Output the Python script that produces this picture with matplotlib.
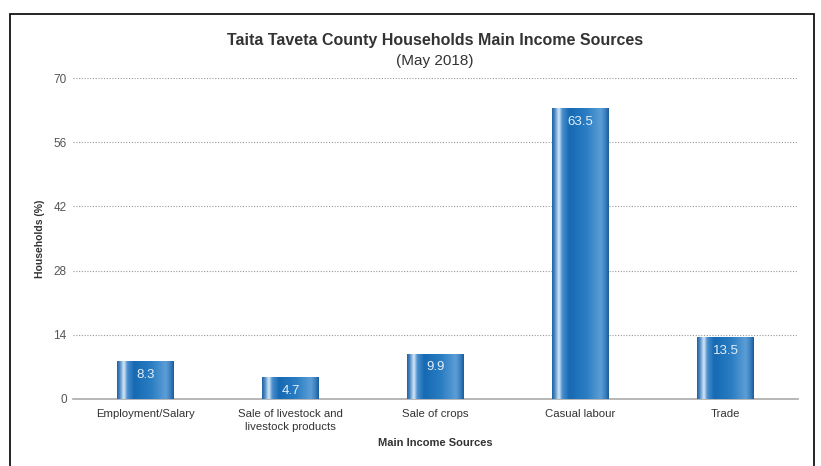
import numpy as np
import matplotlib.pyplot as plt
from matplotlib.colors import LinearSegmentedColormap
from matplotlib.patches import Rectangle

plt.rcParams['font.family'] = ['Liberation Sans', 'DejaVu Sans']

# data
categories = ['Employment/Salary', 'Sale of livestock and\nlivestock products',
              'Sale of crops', 'Casual labour', 'Trade']
values = [8.3, 4.7, 9.9, 63.5, 13.5]
yticks = [0, 14, 28, 42, 56, 70]

fig = plt.figure(figsize=(8.21, 4.66), dpi=100)
ax = fig.add_axes([0.0889, 0.1438, 0.8831, 0.6888])

# gradient for bars (left->right)
cmap = LinearSegmentedColormap.from_list('barg', [
    (0.0, '#1f5f9e'), (0.05, '#4f8cc6'), (0.12, '#d9ebf8'), (0.18, '#4a8fce'),
    (0.30, '#166ab3'), (0.60, '#2a7dc2'), (0.86, '#5c9ed6'), (0.94, '#3a80c0'),
    (1.0, '#1a5a98')])
grad = np.linspace(0, 1, 256).reshape(1, -1)

x = np.arange(len(categories))
bars = ax.bar(x, values, width=0.39, facecolor='none', edgecolor='none', zorder=3)
for b, v in zip(bars, values):
    x0, w, h = b.get_x(), b.get_width(), b.get_height()
    im = ax.imshow(grad, cmap=cmap, aspect='auto', extent=(x0, x0 + w, 0, h),
                   zorder=3, interpolation='bicubic')
    im.set_clip_path(b)
    ax.text(b.get_x() + w / 2, h - 3.0, f'{v}', ha='center', va='center',
            color='#e4eef8', fontsize=9.5, zorder=4)

ax.set_xlim(-0.5, len(categories) - 0.5)
ax.set_ylim(0, 70)
ax.set_yticks(yticks)
ax.set_yticklabels([str(t) for t in yticks])
ax.set_xticks(x)
ax.set_xticklabels(categories, fontsize=8.2, color='#333333', linespacing=1.45)
ax.tick_params(axis='y', length=0, labelsize=8.5, labelcolor='#555555', pad=4.5)
ax.tick_params(axis='x', length=0, pad=7)

for t in yticks[1:]:
    ax.axhline(t, color='#999999', linestyle=(0, (1, 1.5)), linewidth=0.8, zorder=1)

for s in ['top', 'right', 'left']:
    ax.spines[s].set_visible(False)
ax.spines['bottom'].set_color('#aaaaaa')
ax.spines['bottom'].set_linewidth(1.2)

ax.set_ylabel('Households (%)', fontsize=7.5, fontweight='bold', color='#333333', labelpad=6)
ax.set_xlabel('Main Income Sources', fontsize=8, fontweight='bold', color='#333333', labelpad=4)

fig.text(0.53, 1 - 40 / 466, 'Taita Taveta County Households Main Income Sources',
         ha='center', va='center', fontsize=11.5, fontweight='bold', color='#333333')
fig.text(0.53, 1 - 61 / 466, '(May 2018)', ha='center', va='center',
         fontsize=11, color='#333333')

# outer frame
fig.patches.append(Rectangle((10 / 821, -0.05), (814 - 10) / 821, 1.05 - 14 / 466,
                             transform=fig.transFigure, fill=False,
                             edgecolor='black', linewidth=1.2))

fig.savefig('out.png', dpi=100)
